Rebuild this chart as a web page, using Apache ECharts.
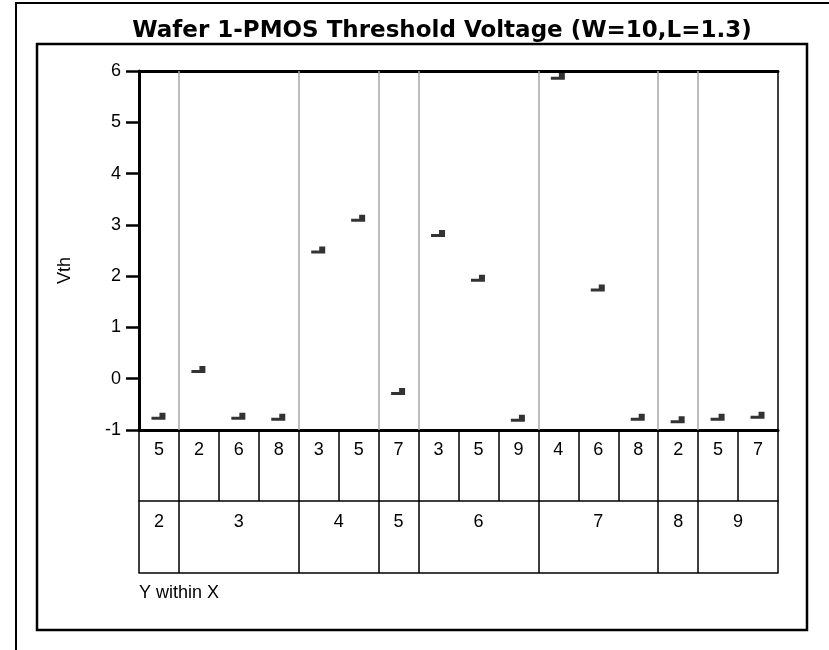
<!DOCTYPE html>
<html>
<head>
<meta charset="utf-8">
<script src="https://cdn.jsdelivr.net/npm/echarts@6/dist/echarts.min.js"></script>
<style>
html,body{margin:0;padding:0;background:#fff;}
#chart{width:829px;height:650px;}
</style>
</head>
<body>
<div id="chart"></div>
<script>
// ---- data ----
const titleText = 'Wafer 1-PMOS Threshold Voltage (W=10,L=1.3)';
const yWithin = ['5','2','6','8','3','5','7','3','5','9','4','6','8','2','5','7'];
const xGroups = ['2','3','4','5','6','7','8','9'];
const groupSizes = [1,3,2,1,3,3,1,2];
const vth = [-0.73, 0.18, -0.73, -0.75, 2.51, 3.13, -0.25, 2.83, 1.96, -0.77, 5.90, 1.77, -0.75, -0.80, -0.75, -0.71];
const yMin = -1, yMax = 6, yStep = 1;

// ---- derived ----
const bounds = [0];
groupSizes.forEach(s => bounds.push(bounds[bounds.length - 1] + s));
const centers = groupSizes.map((s, i) => bounds[i] + s / 2);
const total = bounds[bounds.length - 1];
const innerBounds = bounds.slice(1, -1);

const font = 'Arial, "Liberation Sans", sans-serif';
const chart = echarts.init(document.getElementById('chart'), null, {renderer: 'canvas'});

const markerPath = 'path://M0,4 L8,4 L8,0 L14,0 L14,7 L0,7 Z';

chart.setOption({
  animation: false,
  backgroundColor: '#fff',
  title: {
    text: titleText,
    left: 437,
    textAlign: 'center',
    top: 15,
    textStyle: {fontFamily: '"DejaVu Sans", sans-serif', fontSize: 23, fontWeight: 'bold', color: '#000'}
  },
  graphic: [
    {type: 'polyline', shape: {points: [[16, 650], [16, 3], [829, 3]]}, style: {stroke: '#000', lineWidth: 2, fill: null}, silent: true},
    {type: 'rect', shape: {x: 37, y: 44, width: 770, height: 586}, style: {stroke: '#000', lineWidth: 2.5, fill: null}, silent: true},
    {type: 'text', left: 139, top: 584, style: {text: 'Y within X', font: '18px ' + font, fill: '#000'}}
  ],
  grid: {
    left: 139, right: 51, top: 71, bottom: 220,
    show: true, borderColor: '#000', borderWidth: 1.5, backgroundColor: 'transparent'
  },
  xAxis: [
    {
      type: 'category', data: yWithin, position: 'bottom', boundaryGap: true,
      axisLine: {show: true, onZero: false, lineStyle: {color: '#000', width: 3}},
      axisTick: {show: true, interval: 0, length: 71, lineStyle: {color: '#000', width: 1.5}},
      axisLabel: {interval: 0, margin: 11, fontFamily: font, fontSize: 18, color: '#000'},
      splitLine: {show: false}
    },
    {
      type: 'value', position: 'bottom', offset: 71, min: 0, max: total,
      axisLine: {show: true, onZero: false, lineStyle: {color: '#000', width: 1.5}},
      axisTick: {show: true, customValues: bounds, length: 72, lineStyle: {color: '#000', width: 1.5}},
      axisLabel: {
        customValues: centers, margin: 12.5, fontFamily: font, fontSize: 18, color: '#000',
        formatter: v => { const i = centers.findIndex(c => Math.abs(c - v) < 1e-6); return i >= 0 ? xGroups[i] : ''; }
      },
      splitLine: {show: false}
    },
    {
      type: 'value', position: 'top', min: 0, max: total,
      axisLine: {show: true, onZero: false, lineStyle: {color: '#000', width: 3}},
      axisTick: {show: false}, axisLabel: {show: false}, splitLine: {show: false}
    },
    {
      type: 'value', position: 'bottom', offset: 143, min: 0, max: total,
      axisLine: {show: true, onZero: false, lineStyle: {color: '#000', width: 1.5}},
      axisTick: {show: false}, axisLabel: {show: false}, splitLine: {show: false}
    }
  ],
  yAxis: {
    type: 'value', min: yMin, max: yMax, interval: yStep,
    name: 'Vth', nameLocation: 'middle', nameRotate: 90, nameGap: 65,
    nameTextStyle: {fontFamily: font, fontSize: 18, color: '#000', padding: [0, 40, 0, 0]},
    axisLine: {show: true, onZero: false, lineStyle: {color: '#000', width: 3}},
    axisTick: {show: true, length: 13, lineStyle: {color: '#000', width: 2.5}},
    axisLabel: {margin: 18, fontFamily: font, fontSize: 18, color: '#000'},
    splitLine: {show: false}
  },
  series: [
    {
      type: 'line', xAxisIndex: 1, yAxisIndex: 0, data: [], silent: true,
      markLine: {
        silent: true, symbol: 'none', label: {show: false},
        lineStyle: {color: '#a8a5a0', width: 1.5, type: 'solid'},
        data: innerBounds.map(b => ({xAxis: b}))
      }
    },
    {
      type: 'scatter', xAxisIndex: 0, yAxisIndex: 0,
      data: vth, symbol: markerPath, symbolSize: [14, 7], symbolOffset: [-0.5, 0],
      itemStyle: {color: '#000'}, silent: true
    }
  ]
});
</script>
</body>
</html>
